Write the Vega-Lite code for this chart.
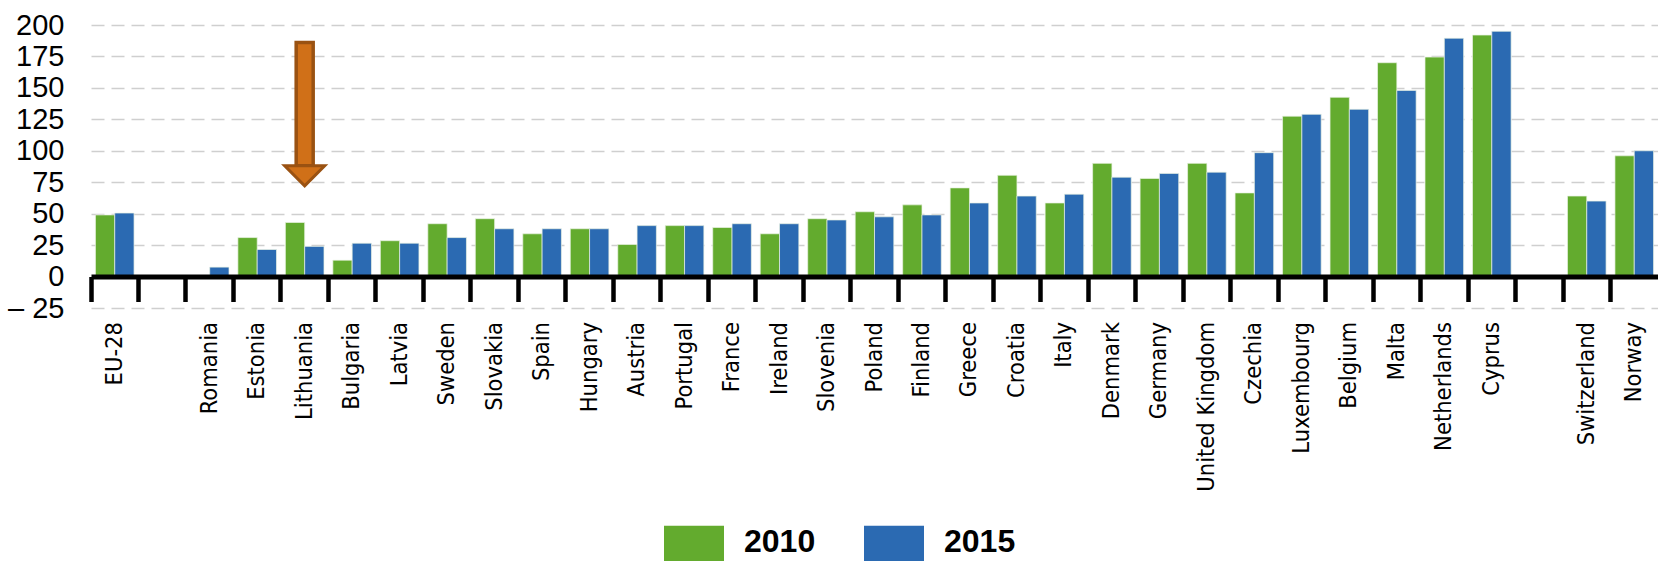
{
  "$schema": "https://vega.github.io/schema/vega-lite/v6.json",
  "width": 1567,
  "height": 283,
  "autosize": {"type": "none"},
  "padding": {"left": 91, "top": 25, "right": 0, "bottom": 253},
  "background": "white",
  "config": {"view": {"stroke": null}, "font": "Liberation Sans"},
  "datasets": {
    "bars": [
      {"country": "EU-28", "year": "2010", "value": 49},
      {"country": "EU-28", "year": "2015", "value": 50.5},
      {"country": "Romania", "year": "2010", "value": null},
      {"country": "Romania", "year": "2015", "value": 7.5},
      {"country": "Estonia", "year": "2010", "value": 31},
      {"country": "Estonia", "year": "2015", "value": 21.5},
      {"country": "Lithuania", "year": "2010", "value": 43},
      {"country": "Lithuania", "year": "2015", "value": 24},
      {"country": "Bulgaria", "year": "2010", "value": 13},
      {"country": "Bulgaria", "year": "2015", "value": 26.5},
      {"country": "Latvia", "year": "2010", "value": 28.5},
      {"country": "Latvia", "year": "2015", "value": 26.5},
      {"country": "Sweden", "year": "2010", "value": 42},
      {"country": "Sweden", "year": "2015", "value": 31},
      {"country": "Slovakia", "year": "2010", "value": 46},
      {"country": "Slovakia", "year": "2015", "value": 38},
      {"country": "Spain", "year": "2010", "value": 34},
      {"country": "Spain", "year": "2015", "value": 38},
      {"country": "Hungary", "year": "2010", "value": 38},
      {"country": "Hungary", "year": "2015", "value": 38},
      {"country": "Austria", "year": "2010", "value": 25.5},
      {"country": "Austria", "year": "2015", "value": 40.5},
      {"country": "Portugal", "year": "2010", "value": 40.5},
      {"country": "Portugal", "year": "2015", "value": 40.5},
      {"country": "France", "year": "2010", "value": 39},
      {"country": "France", "year": "2015", "value": 42},
      {"country": "Ireland", "year": "2010", "value": 34},
      {"country": "Ireland", "year": "2015", "value": 42},
      {"country": "Slovenia", "year": "2010", "value": 46},
      {"country": "Slovenia", "year": "2015", "value": 45},
      {"country": "Poland", "year": "2010", "value": 51.5},
      {"country": "Poland", "year": "2015", "value": 47.5},
      {"country": "Finland", "year": "2010", "value": 57},
      {"country": "Finland", "year": "2015", "value": 49},
      {"country": "Greece", "year": "2010", "value": 70.5},
      {"country": "Greece", "year": "2015", "value": 58.5},
      {"country": "Croatia", "year": "2010", "value": 80.5},
      {"country": "Croatia", "year": "2015", "value": 64},
      {"country": "Italy", "year": "2010", "value": 58.5},
      {"country": "Italy", "year": "2015", "value": 65.5},
      {"country": "Denmark", "year": "2010", "value": 90},
      {"country": "Denmark", "year": "2015", "value": 79},
      {"country": "Germany", "year": "2010", "value": 78},
      {"country": "Germany", "year": "2015", "value": 82},
      {"country": "United Kingdom", "year": "2010", "value": 90},
      {"country": "United Kingdom", "year": "2015", "value": 83},
      {"country": "Czechia", "year": "2010", "value": 66.5},
      {"country": "Czechia", "year": "2015", "value": 98.5},
      {"country": "Luxembourg", "year": "2010", "value": 127.5},
      {"country": "Luxembourg", "year": "2015", "value": 129},
      {"country": "Belgium", "year": "2010", "value": 142.5},
      {"country": "Belgium", "year": "2015", "value": 133},
      {"country": "Malta", "year": "2010", "value": 170},
      {"country": "Malta", "year": "2015", "value": 148},
      {"country": "Netherlands", "year": "2010", "value": 174.5},
      {"country": "Netherlands", "year": "2015", "value": 189.5},
      {"country": "Cyprus", "year": "2010", "value": 192},
      {"country": "Cyprus", "year": "2015", "value": 195},
      {"country": "Switzerland", "year": "2010", "value": 64},
      {"country": "Switzerland", "year": "2015", "value": 60},
      {"country": "Norway", "year": "2010", "value": 96},
      {"country": "Norway", "year": "2015", "value": 100}
    ],
    "arrow": [{"country": "Lithuania", "top": 186, "base": 88}]
  },
  "layer": [
    {
      "data": {"name": "bars"},
      "mark": {"type": "bar", "stroke": "#EAF2E4", "strokeWidth": 0.7},
      "encoding": {
        "x": {
          "field": "country",
          "type": "nominal",
          "sort": null,
          "scale": {
            "domain": ["EU-28", " ", "Romania", "Estonia", "Lithuania", "Bulgaria", "Latvia", "Sweden", "Slovakia", "Spain", "Hungary", "Austria", "Portugal", "France", "Ireland", "Slovenia", "Poland", "Finland", "Greece", "Croatia", "Italy", "Denmark", "Germany", "United Kingdom", "Czechia", "Luxembourg", "Belgium", "Malta", "Netherlands", "Cyprus", "  ", "Switzerland", "Norway"],
            "paddingInner": 0,
            "paddingOuter": 0
          },
          "axis": {
            "title": null,
            "orient": "bottom",
            "offset": -31.5,
            "zindex": 1,
            "domain": true,
            "domainColor": "black",
            "domainWidth": 5,
            "ticks": true,
            "tickColor": "black",
            "tickWidth": 4.5,
            "tickSize": 25,
            "bandPosition": 0,
            "labelAngle": -90,
            "labelAlign": "right",
            "labelBaseline": "middle",
            "labelPadding": 20,
            "labelFontSize": 23.5,
            "labelFont": "DejaVu Sans Condensed, Liberation Sans",
            "labelColor": "black",
            "labelOverlap": false,
            "grid": false
          }
        },
        "xOffset": {"field": "year", "type": "nominal", "scale": {"paddingInner": 0, "paddingOuter": 0.23}},
        "y": {
          "field": "value",
          "type": "quantitative",
          "scale": {"domain": [-25, 200], "nice": false, "zero": false},
          "axis": {
            "title": null,
            "values": [-25, 0, 25, 50, 75, 100, 125, 150, 175, 200],
            "tickCount": 20,
            "domain": false,
            "ticks": false,
            "grid": true,
            "gridColor": "#CFCFCF",
            "gridDash": [13, 7],
            "gridWidth": 1.5,
            "labelFontSize": 29,
            "labelPadding": 27,
            "labelColor": "black",
            "labelOverlap": false,
            "labelFlush": false,
            "labelExpr": "datum.value < 0 ? '– ' + abs(datum.value) : datum.label"
          }
        },
        "color": {
          "field": "year",
          "type": "nominal",
          "scale": {"domain": ["2010", "2015"], "range": ["#63AB2E", "#2B6AB2"]},
          "legend": {
            "orient": "none",
            "legendX": 573,
            "legendY": 487,
            "direction": "horizontal",
            "title": null,
            "symbolType": "M-1,-0.55L1,-0.55L1,1.45L-1,1.45Z",
            "symbolSize": 3600,
            "symbolStrokeWidth": 0,
            "symbolOpacity": 1,
            "labelFontSize": 32,
            "labelFontWeight": "bold",
            "labelColor": "black",
            "labelOffset": 20,
            "columnPadding": 48
          }
        }
      }
    },
    {
      "data": {"name": "arrow"},
      "mark": {"type": "bar", "width": 17, "fill": "#D07018", "stroke": "#9A5212", "strokeWidth": 3.5},
      "encoding": {
        "x": {"field": "country", "type": "nominal"},
        "y": {"field": "base", "type": "quantitative"},
        "y2": {"field": "top"}
      }
    },
    {
      "data": {"name": "arrow"},
      "mark": {"type": "point", "shape": "M-1,0L1,0L0,1Z", "filled": true, "fill": "#D07018", "stroke": "#9A5212", "strokeWidth": 3, "size": 1600, "opacity": 1},
      "encoding": {
        "x": {"field": "country", "type": "nominal"},
        "y": {"field": "base", "type": "quantitative"}
      }
    }
  ]
}
